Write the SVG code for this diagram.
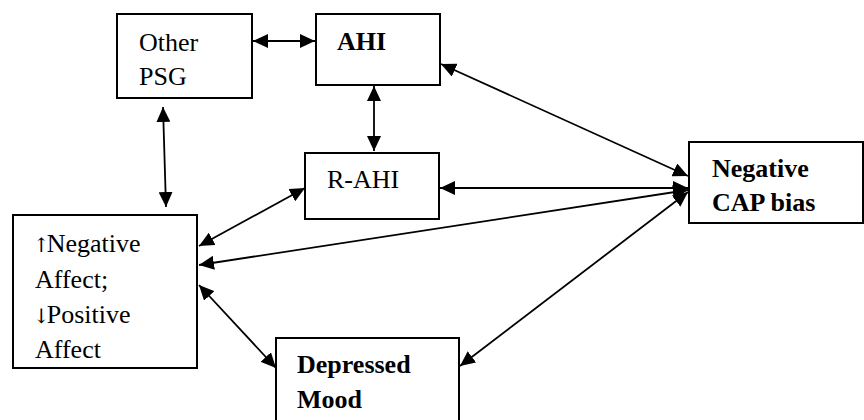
<svg xmlns="http://www.w3.org/2000/svg" width="864" height="420" viewBox="0 0 864 420">
<defs>
<style>
.box{fill:#fff;stroke:#000;stroke-width:2}
.t{font-family:"Liberation Serif","Times New Roman",serif;font-size:26px;fill:#000}
.b{font-weight:bold}
.ar{font-family:"DejaVu Serif","DejaVu Sans",serif;font-size:20px;letter-spacing:-3px}
.c{stroke:#000;stroke-width:1.8;fill:none;marker-start:url(#ah);marker-end:url(#ah)}
</style>
<marker id="ah" viewBox="0 0 15 14" refX="15" refY="7" markerWidth="15" markerHeight="14" markerUnits="userSpaceOnUse" orient="auto-start-reverse">
<path d="M0,0 L15,7 L0,14 Z" fill="#000"/>
</marker>
</defs>
<rect width="864" height="420" fill="#fff"/>
<g id="connectors">
<line class="c" x1="253" y1="41" x2="315" y2="41"/>
<line class="c" x1="163" y1="107" x2="166" y2="207"/>
<line class="c" x1="374" y1="86" x2="374" y2="151"/>
<line class="c" x1="441" y1="64" x2="688" y2="176"/>
<line class="c" x1="440" y1="188" x2="688" y2="188"/>
<line class="c" x1="199" y1="265" x2="688" y2="190"/>
<line class="c" x1="199" y1="246" x2="305" y2="188"/>
<line class="c" x1="199" y1="285" x2="276" y2="368"/>
<line class="c" x1="460" y1="366" x2="688" y2="192"/>
</g>
<g id="other-psg">
<rect class="box" x="117" y="14" width="135" height="84"/>
<text class="t" x="139" y="51">Other</text>
<text class="t" x="139" y="85">PSG</text>
</g>
<g id="ahi">
<rect class="box" x="316" y="14" width="124" height="71"/>
<text class="t b" x="337" y="50">AHI</text>
</g>
<g id="r-ahi">
<rect class="box" x="305" y="153" width="134" height="66"/>
<text class="t" x="327" y="188">R-AHI</text>
</g>
<g id="negative-cap-bias">
<rect class="box" x="689" y="142" width="174" height="81"/>
<text class="t b" x="712" y="177">Negative</text>
<text class="t b" x="712" y="211">CAP bias</text>
</g>
<g id="negative-affect">
<rect class="box" x="13" y="215" width="184" height="153"/>
<text class="t" x="33" y="252"><tspan class="ar">↑</tspan>Negative</text>
<text class="t" x="35" y="288">Affect;</text>
<text class="t" x="33" y="323"><tspan class="ar">↓</tspan>Positive</text>
<text class="t" x="35" y="358">Affect</text>
</g>
<g id="depressed-mood">
<rect class="box" x="276" y="338" width="183" height="90"/>
<text class="t b" x="297" y="373">Depressed</text>
<text class="t b" x="297" y="408">Mood</text>
</g>
</svg>
